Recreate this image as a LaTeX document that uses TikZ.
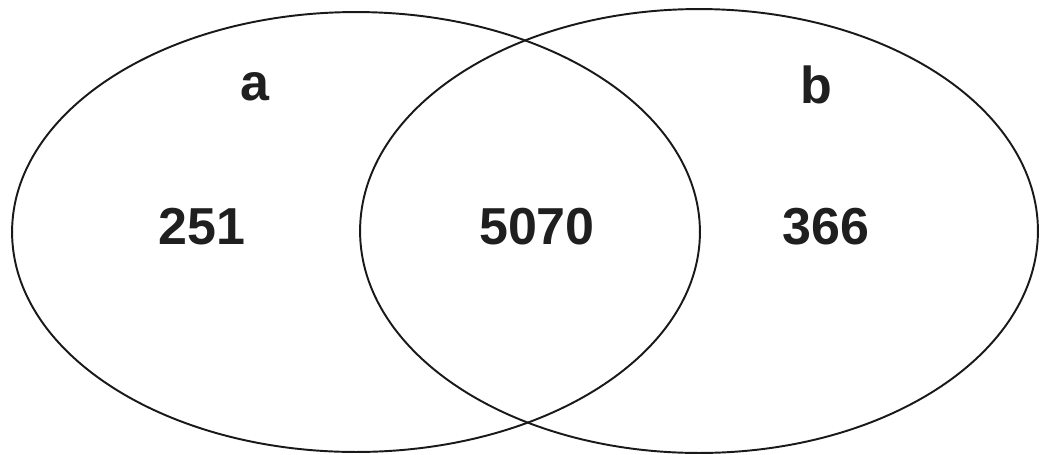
\documentclass[tikz,border=0pt]{standalone}
\usepackage{fontspec}
\setmainfont{Liberation Sans}
\usetikzlibrary{shapes.geometric,positioning}

\begin{document}
\begin{tikzpicture}[
    x=0.02cm,
    y=-0.02cm,
    set/.style={draw=black!90, ellipse, line width=1.1pt, inner sep=0pt},
    lab/.style={font=\bfseries\fontsize{29.6}{32}\selectfont, text=black!88, inner sep=0pt}
  ]
    \useasboundingbox (0,0) rectangle (1040,454);
    % the two sets
    \node[set, minimum width=13.76cm, minimum height=8.8cm] (setA) at (356,232) {};
    \node[set, minimum width=13.56cm, minimum height=8.88cm] (setB) at (699,231) {};
    % set names
    \node[lab] (nameA) at (255,87) {a};
    \node[lab] (nameB) at (816,85) {b};
    % counts
    \node[lab] (onlyA) at (202,227) {251};
    \node[lab] (both) at (537,227) {5070};
    \node[lab] (onlyB) at (826,227) {366};
\end{tikzpicture}
\end{document}
